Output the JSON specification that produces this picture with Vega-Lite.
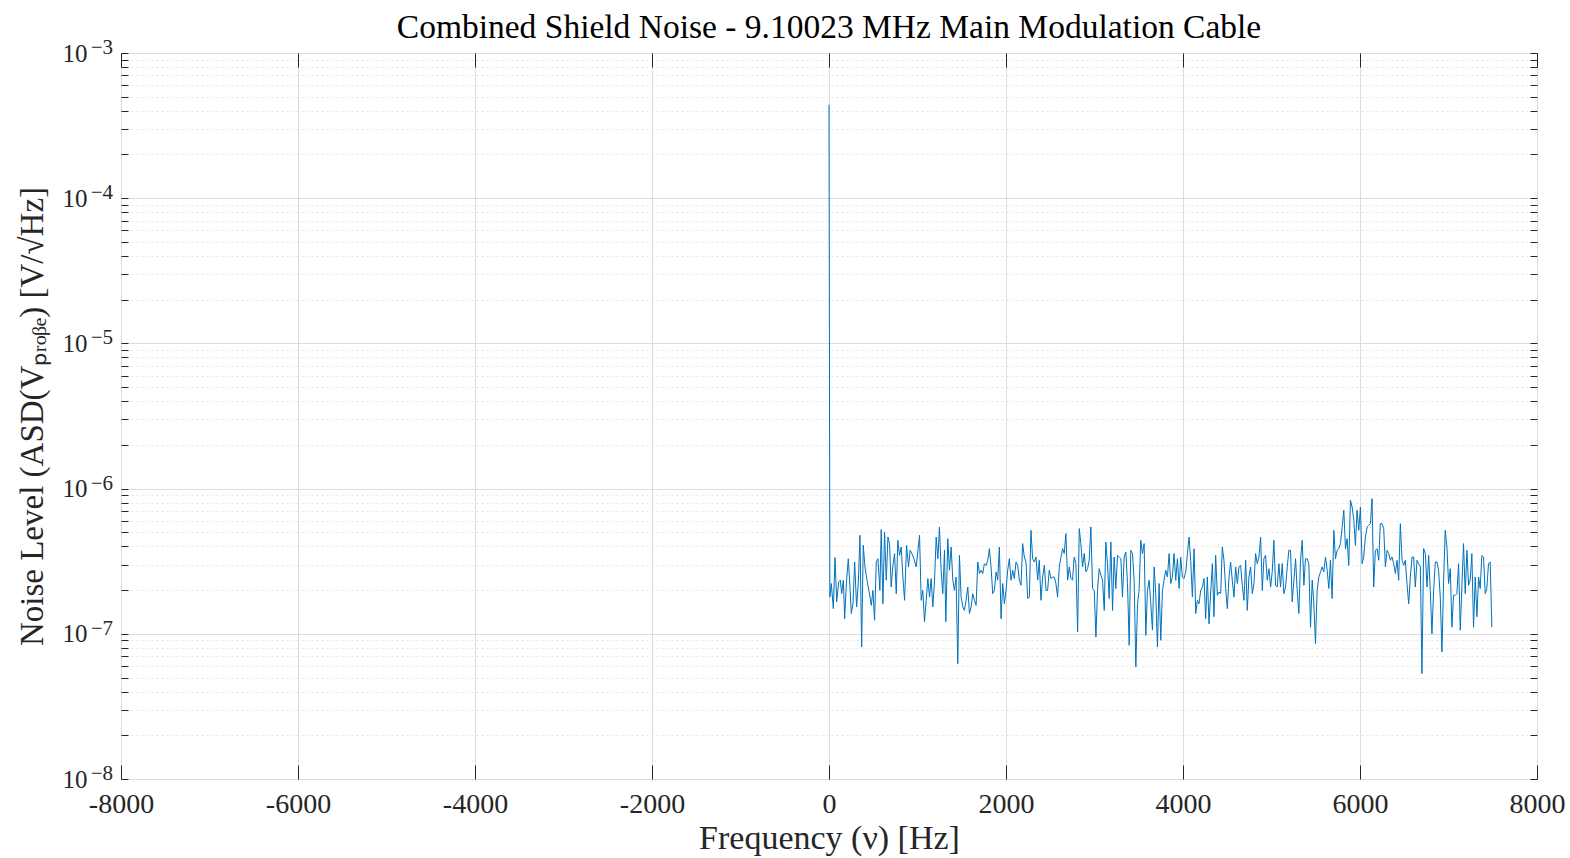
{
  "$schema": "https://vega.github.io/schema/vega-lite/v6.json",
  "width": 1416,
  "height": 726,
  "autosize": "none",
  "padding": {"left": 121, "top": 53, "right": 33, "bottom": 79},
  "background": "white",
  "title": {
    "text": "Combined Shield Noise - 9.10023 MHz Main Modulation Cable",
    "font": "Liberation Serif",
    "fontSize": 33.5,
    "fontWeight": "normal",
    "color": "#000000",
    "offset": -8,
    "anchor": "middle",
    "frame": "group"
  },
  "config": {
    "view": {"stroke": "#262626", "strokeWidth": 1},
    "axis": {
      "domain": false,
      "labelFont": "Liberation Serif",
      "titleFont": "Liberation Serif",
      "labelColor": "#262626",
      "titleColor": "#262626",
      "titleFontWeight": "normal",
      "tickColor": "#262626",
      "tickWidth": 1,
      "labelOverlap": false,
      "labelFlush": false
    }
  },
  "datasets": {
    "exps": [
      {"v": 1e-8, "e": "−8"},
      {"v": 1e-7, "e": "−7"},
      {"v": 1e-6, "e": "−6"},
      {"v": 1e-5, "e": "−5"},
      {"v": 1e-4, "e": "−4"},
      {"v": 1e-3, "e": "−3"}
    ],
    "asd": [
      {"f": 0, "v": 4.4e-4},
      {"f": 10, "v": 1.79e-7},
      {"f": 26, "v": 2.22e-7},
      {"f": 49, "v": 1.49e-7},
      {"f": 68, "v": 3.35e-7},
      {"f": 87, "v": 1.66e-7},
      {"f": 109, "v": 2.28e-7},
      {"f": 128, "v": 2.34e-7},
      {"f": 143, "v": 1.89e-7},
      {"f": 162, "v": 2.34e-7},
      {"f": 177, "v": 1.27e-7},
      {"f": 196, "v": 2.22e-7},
      {"f": 218, "v": 3.29e-7},
      {"f": 237, "v": 2.10e-7},
      {"f": 252, "v": 1.38e-7},
      {"f": 271, "v": 1.61e-7},
      {"f": 290, "v": 3.12e-7},
      {"f": 312, "v": 1.53e-7},
      {"f": 331, "v": 2.22e-7},
      {"f": 350, "v": 4.77e-7},
      {"f": 369, "v": 8.11e-8},
      {"f": 387, "v": 4.07e-7},
      {"f": 406, "v": 2.89e-7},
      {"f": 429, "v": 2.34e-7},
      {"f": 451, "v": 1.99e-7},
      {"f": 478, "v": 1.57e-7},
      {"f": 496, "v": 1.99e-7},
      {"f": 515, "v": 1.24e-7},
      {"f": 534, "v": 3.12e-7},
      {"f": 553, "v": 3.29e-7},
      {"f": 575, "v": 1.99e-7},
      {"f": 590, "v": 5.22e-7},
      {"f": 609, "v": 1.61e-7},
      {"f": 628, "v": 5.03e-7},
      {"f": 647, "v": 2.34e-7},
      {"f": 666, "v": 4.64e-7},
      {"f": 684, "v": 4.18e-7},
      {"f": 703, "v": 2.10e-7},
      {"f": 722, "v": 2.96e-7},
      {"f": 741, "v": 3.57e-7},
      {"f": 760, "v": 1.89e-7},
      {"f": 778, "v": 4.40e-7},
      {"f": 797, "v": 3.47e-7},
      {"f": 816, "v": 3.96e-7},
      {"f": 835, "v": 2.46e-7},
      {"f": 854, "v": 1.70e-7},
      {"f": 876, "v": 4.07e-7},
      {"f": 899, "v": 2.89e-7},
      {"f": 917, "v": 3.76e-7},
      {"f": 936, "v": 3.57e-7},
      {"f": 959, "v": 3.29e-7},
      {"f": 985, "v": 2.89e-7},
      {"f": 1023, "v": 4.77e-7},
      {"f": 1042, "v": 1.70e-7},
      {"f": 1060, "v": 1.99e-7},
      {"f": 1079, "v": 1.21e-7},
      {"f": 1098, "v": 1.70e-7},
      {"f": 1117, "v": 2.40e-7},
      {"f": 1136, "v": 1.79e-7},
      {"f": 1154, "v": 2.40e-7},
      {"f": 1173, "v": 1.53e-7},
      {"f": 1192, "v": 2.28e-7},
      {"f": 1211, "v": 4.64e-7},
      {"f": 1230, "v": 3.29e-7},
      {"f": 1248, "v": 5.44e-7},
      {"f": 1267, "v": 2.74e-7},
      {"f": 1286, "v": 1.89e-7},
      {"f": 1305, "v": 3.76e-7},
      {"f": 1320, "v": 1.21e-7},
      {"f": 1342, "v": 4.52e-7},
      {"f": 1361, "v": 2.74e-7},
      {"f": 1380, "v": 3.96e-7},
      {"f": 1399, "v": 2.34e-7},
      {"f": 1418, "v": 1.99e-7},
      {"f": 1436, "v": 2.46e-7},
      {"f": 1455, "v": 6.23e-8},
      {"f": 1474, "v": 3.47e-7},
      {"f": 1493, "v": 1.79e-7},
      {"f": 1512, "v": 1.53e-7},
      {"f": 1530, "v": 1.45e-7},
      {"f": 1549, "v": 1.70e-7},
      {"f": 1568, "v": 2.10e-7},
      {"f": 1587, "v": 1.38e-7},
      {"f": 1606, "v": 1.53e-7},
      {"f": 1624, "v": 1.89e-7},
      {"f": 1643, "v": 1.70e-7},
      {"f": 1662, "v": 1.57e-7},
      {"f": 1681, "v": 3.12e-7},
      {"f": 1700, "v": 2.60e-7},
      {"f": 1718, "v": 2.74e-7},
      {"f": 1737, "v": 2.60e-7},
      {"f": 1756, "v": 3.04e-7},
      {"f": 1775, "v": 2.96e-7},
      {"f": 1794, "v": 3.21e-7},
      {"f": 1812, "v": 3.86e-7},
      {"f": 1831, "v": 2.89e-7},
      {"f": 1850, "v": 1.89e-7},
      {"f": 1869, "v": 1.99e-7},
      {"f": 1888, "v": 2.67e-7},
      {"f": 1906, "v": 2.34e-7},
      {"f": 1925, "v": 3.96e-7},
      {"f": 1944, "v": 1.27e-7},
      {"f": 1963, "v": 2.22e-7},
      {"f": 1982, "v": 1.61e-7},
      {"f": 2000, "v": 1.99e-7},
      {"f": 2019, "v": 2.74e-7},
      {"f": 2038, "v": 3.29e-7},
      {"f": 2057, "v": 2.34e-7},
      {"f": 2076, "v": 2.74e-7},
      {"f": 2094, "v": 2.40e-7},
      {"f": 2113, "v": 3.12e-7},
      {"f": 2132, "v": 2.96e-7},
      {"f": 2151, "v": 2.34e-7},
      {"f": 2170, "v": 2.16e-7},
      {"f": 2188, "v": 4.18e-7},
      {"f": 2207, "v": 3.38e-7},
      {"f": 2226, "v": 3.12e-7},
      {"f": 2245, "v": 1.75e-7},
      {"f": 2264, "v": 1.79e-7},
      {"f": 2282, "v": 5.16e-7},
      {"f": 2301, "v": 3.29e-7},
      {"f": 2320, "v": 3.12e-7},
      {"f": 2339, "v": 3.38e-7},
      {"f": 2358, "v": 2.34e-7},
      {"f": 2376, "v": 3.21e-7},
      {"f": 2395, "v": 1.70e-7},
      {"f": 2414, "v": 2.46e-7},
      {"f": 2433, "v": 2.96e-7},
      {"f": 2452, "v": 1.99e-7},
      {"f": 2470, "v": 1.99e-7},
      {"f": 2489, "v": 2.74e-7},
      {"f": 2508, "v": 2.40e-7},
      {"f": 2527, "v": 2.46e-7},
      {"f": 2546, "v": 2.46e-7},
      {"f": 2564, "v": 2.22e-7},
      {"f": 2583, "v": 1.79e-7},
      {"f": 2602, "v": 2.89e-7},
      {"f": 2621, "v": 3.38e-7},
      {"f": 2640, "v": 3.86e-7},
      {"f": 2658, "v": 3.57e-7},
      {"f": 2677, "v": 4.90e-7},
      {"f": 2696, "v": 2.34e-7},
      {"f": 2715, "v": 2.89e-7},
      {"f": 2734, "v": 2.40e-7},
      {"f": 2752, "v": 2.34e-7},
      {"f": 2771, "v": 3.38e-7},
      {"f": 2790, "v": 3.04e-7},
      {"f": 2809, "v": 1.03e-7},
      {"f": 2828, "v": 5.30e-7},
      {"f": 2846, "v": 4.18e-7},
      {"f": 2865, "v": 2.89e-7},
      {"f": 2884, "v": 3.57e-7},
      {"f": 2903, "v": 2.67e-7},
      {"f": 2922, "v": 2.81e-7},
      {"f": 2940, "v": 3.21e-7},
      {"f": 2959, "v": 5.44e-7},
      {"f": 2978, "v": 2.05e-7},
      {"f": 2997, "v": 1.99e-7},
      {"f": 3016, "v": 9.51e-8},
      {"f": 3034, "v": 1.99e-7},
      {"f": 3053, "v": 2.81e-7},
      {"f": 3072, "v": 2.53e-7},
      {"f": 3091, "v": 2.34e-7},
      {"f": 3110, "v": 1.45e-7},
      {"f": 3128, "v": 4.29e-7},
      {"f": 3147, "v": 3.04e-7},
      {"f": 3166, "v": 1.75e-7},
      {"f": 3185, "v": 4.29e-7},
      {"f": 3204, "v": 1.45e-7},
      {"f": 3222, "v": 3.38e-7},
      {"f": 3241, "v": 2.05e-7},
      {"f": 3260, "v": 3.47e-7},
      {"f": 3279, "v": 3.38e-7},
      {"f": 3298, "v": 3.29e-7},
      {"f": 3316, "v": 1.79e-7},
      {"f": 3335, "v": 3.38e-7},
      {"f": 3354, "v": 3.66e-7},
      {"f": 3373, "v": 2.22e-7},
      {"f": 3392, "v": 8.33e-8},
      {"f": 3410, "v": 3.76e-7},
      {"f": 3429, "v": 3.57e-7},
      {"f": 3448, "v": 2.34e-7},
      {"f": 3467, "v": 5.91e-8},
      {"f": 3486, "v": 1.61e-7},
      {"f": 3504, "v": 1.99e-7},
      {"f": 3523, "v": 4.40e-7},
      {"f": 3542, "v": 3.57e-7},
      {"f": 3561, "v": 4.18e-7},
      {"f": 3580, "v": 9.76e-8},
      {"f": 3598, "v": 1.99e-7},
      {"f": 3617, "v": 2.34e-7},
      {"f": 3636, "v": 1.61e-7},
      {"f": 3655, "v": 1.06e-7},
      {"f": 3674, "v": 2.89e-7},
      {"f": 3692, "v": 1.89e-7},
      {"f": 3711, "v": 8.11e-8},
      {"f": 3730, "v": 2.22e-7},
      {"f": 3749, "v": 9.02e-8},
      {"f": 3768, "v": 1.99e-7},
      {"f": 3786, "v": 2.34e-7},
      {"f": 3805, "v": 2.74e-7},
      {"f": 3824, "v": 2.46e-7},
      {"f": 3843, "v": 3.57e-7},
      {"f": 3862, "v": 2.22e-7},
      {"f": 3880, "v": 2.46e-7},
      {"f": 3899, "v": 3.57e-7},
      {"f": 3918, "v": 2.34e-7},
      {"f": 3937, "v": 3.29e-7},
      {"f": 3956, "v": 2.05e-7},
      {"f": 3974, "v": 3.38e-7},
      {"f": 3993, "v": 2.46e-7},
      {"f": 4012, "v": 2.40e-7},
      {"f": 4031, "v": 2.67e-7},
      {"f": 4050, "v": 3.57e-7},
      {"f": 4068, "v": 4.64e-7},
      {"f": 4087, "v": 3.21e-7},
      {"f": 4106, "v": 1.79e-7},
      {"f": 4125, "v": 3.86e-7},
      {"f": 4144, "v": 1.38e-7},
      {"f": 4162, "v": 1.70e-7},
      {"f": 4181, "v": 1.61e-7},
      {"f": 4200, "v": 1.99e-7},
      {"f": 4219, "v": 2.10e-7},
      {"f": 4238, "v": 2.40e-7},
      {"f": 4256, "v": 1.27e-7},
      {"f": 4275, "v": 2.46e-7},
      {"f": 4294, "v": 1.17e-7},
      {"f": 4313, "v": 1.94e-7},
      {"f": 4332, "v": 3.04e-7},
      {"f": 4350, "v": 1.31e-7},
      {"f": 4369, "v": 3.47e-7},
      {"f": 4388, "v": 1.84e-7},
      {"f": 4407, "v": 1.94e-7},
      {"f": 4426, "v": 1.89e-7},
      {"f": 4444, "v": 3.96e-7},
      {"f": 4463, "v": 3.21e-7},
      {"f": 4482, "v": 2.05e-7},
      {"f": 4501, "v": 1.49e-7},
      {"f": 4520, "v": 2.46e-7},
      {"f": 4538, "v": 3.12e-7},
      {"f": 4557, "v": 2.34e-7},
      {"f": 4576, "v": 1.79e-7},
      {"f": 4595, "v": 2.89e-7},
      {"f": 4614, "v": 2.22e-7},
      {"f": 4632, "v": 2.89e-7},
      {"f": 4651, "v": 2.96e-7},
      {"f": 4670, "v": 2.16e-7},
      {"f": 4689, "v": 1.70e-7},
      {"f": 4708, "v": 3.21e-7},
      {"f": 4726, "v": 1.45e-7},
      {"f": 4745, "v": 2.46e-7},
      {"f": 4764, "v": 2.89e-7},
      {"f": 4783, "v": 1.89e-7},
      {"f": 4802, "v": 2.22e-7},
      {"f": 4820, "v": 3.57e-7},
      {"f": 4839, "v": 3.04e-7},
      {"f": 4858, "v": 3.38e-7},
      {"f": 4877, "v": 4.64e-7},
      {"f": 4896, "v": 1.99e-7},
      {"f": 4914, "v": 3.29e-7},
      {"f": 4933, "v": 3.47e-7},
      {"f": 4952, "v": 2.34e-7},
      {"f": 4971, "v": 2.81e-7},
      {"f": 4990, "v": 2.10e-7},
      {"f": 5008, "v": 2.67e-7},
      {"f": 5027, "v": 4.40e-7},
      {"f": 5046, "v": 2.16e-7},
      {"f": 5065, "v": 2.10e-7},
      {"f": 5084, "v": 3.04e-7},
      {"f": 5102, "v": 2.10e-7},
      {"f": 5121, "v": 3.04e-7},
      {"f": 5140, "v": 1.89e-7},
      {"f": 5159, "v": 2.10e-7},
      {"f": 5178, "v": 2.89e-7},
      {"f": 5196, "v": 3.76e-7},
      {"f": 5215, "v": 3.76e-7},
      {"f": 5234, "v": 1.66e-7},
      {"f": 5253, "v": 2.34e-7},
      {"f": 5272, "v": 3.29e-7},
      {"f": 5290, "v": 1.99e-7},
      {"f": 5309, "v": 1.38e-7},
      {"f": 5328, "v": 3.21e-7},
      {"f": 5347, "v": 4.40e-7},
      {"f": 5366, "v": 2.16e-7},
      {"f": 5384, "v": 3.29e-7},
      {"f": 5403, "v": 3.29e-7},
      {"f": 5422, "v": 3.04e-7},
      {"f": 5441, "v": 1.11e-7},
      {"f": 5460, "v": 2.34e-7},
      {"f": 5478, "v": 1.61e-7},
      {"f": 5497, "v": 8.56e-8},
      {"f": 5516, "v": 1.99e-7},
      {"f": 5535, "v": 2.46e-7},
      {"f": 5554, "v": 2.67e-7},
      {"f": 5572, "v": 2.89e-7},
      {"f": 5591, "v": 2.67e-7},
      {"f": 5610, "v": 3.38e-7},
      {"f": 5629, "v": 2.74e-7},
      {"f": 5648, "v": 2.05e-7},
      {"f": 5666, "v": 3.21e-7},
      {"f": 5685, "v": 1.75e-7},
      {"f": 5704, "v": 5.16e-7},
      {"f": 5723, "v": 3.29e-7},
      {"f": 5742, "v": 3.76e-7},
      {"f": 5760, "v": 3.86e-7},
      {"f": 5779, "v": 4.18e-7},
      {"f": 5798, "v": 5.4e-7},
      {"f": 5817, "v": 7.09e-7},
      {"f": 5836, "v": 3.86e-7},
      {"f": 5854, "v": 4.52e-7},
      {"f": 5873, "v": 2.96e-7},
      {"f": 5892, "v": 8.31e-7},
      {"f": 5911, "v": 7.47e-7},
      {"f": 5930, "v": 6.05e-7},
      {"f": 5948, "v": 4.07e-7},
      {"f": 5967, "v": 7.09e-7},
      {"f": 5986, "v": 5.16e-7},
      {"f": 6005, "v": 7.47e-7},
      {"f": 6024, "v": 3.04e-7},
      {"f": 6042, "v": 3.38e-7},
      {"f": 6061, "v": 4.64e-7},
      {"f": 6080, "v": 5.44e-7},
      {"f": 6099, "v": 5.59e-7},
      {"f": 6118, "v": 5.74e-7},
      {"f": 6136, "v": 8.53e-7},
      {"f": 6155, "v": 2.10e-7},
      {"f": 6174, "v": 3.76e-7},
      {"f": 6193, "v": 3.86e-7},
      {"f": 6212, "v": 3.21e-7},
      {"f": 6230, "v": 5.74e-7},
      {"f": 6249, "v": 5.74e-7},
      {"f": 6268, "v": 5.30e-7},
      {"f": 6287, "v": 2.89e-7},
      {"f": 6306, "v": 3.76e-7},
      {"f": 6324, "v": 3.57e-7},
      {"f": 6343, "v": 3.21e-7},
      {"f": 6362, "v": 3.38e-7},
      {"f": 6381, "v": 3.04e-7},
      {"f": 6400, "v": 2.60e-7},
      {"f": 6418, "v": 3.21e-7},
      {"f": 6437, "v": 2.34e-7},
      {"f": 6456, "v": 5.74e-7},
      {"f": 6475, "v": 3.21e-7},
      {"f": 6494, "v": 2.96e-7},
      {"f": 6512, "v": 3.21e-7},
      {"f": 6531, "v": 2.22e-7},
      {"f": 6550, "v": 1.61e-7},
      {"f": 6569, "v": 2.46e-7},
      {"f": 6588, "v": 3.38e-7},
      {"f": 6606, "v": 3.38e-7},
      {"f": 6625, "v": 2.10e-7},
      {"f": 6644, "v": 3.21e-7},
      {"f": 6663, "v": 3.04e-7},
      {"f": 6682, "v": 2.89e-7},
      {"f": 6700, "v": 5.32e-8},
      {"f": 6719, "v": 3.86e-7},
      {"f": 6738, "v": 3.57e-7},
      {"f": 6757, "v": 2.10e-7},
      {"f": 6776, "v": 3.47e-7},
      {"f": 6794, "v": 1.99e-7},
      {"f": 6813, "v": 1.00e-7},
      {"f": 6832, "v": 1.99e-7},
      {"f": 6851, "v": 3.12e-7},
      {"f": 6870, "v": 3.12e-7},
      {"f": 6888, "v": 2.74e-7},
      {"f": 6907, "v": 1.79e-7},
      {"f": 6926, "v": 7.49e-8},
      {"f": 6945, "v": 2.34e-7},
      {"f": 6963, "v": 5.16e-7},
      {"f": 6982, "v": 3.96e-7},
      {"f": 7001, "v": 2.22e-7},
      {"f": 7020, "v": 2.81e-7},
      {"f": 7039, "v": 1.11e-7},
      {"f": 7057, "v": 1.84e-7},
      {"f": 7076, "v": 1.84e-7},
      {"f": 7095, "v": 1.89e-7},
      {"f": 7114, "v": 3.04e-7},
      {"f": 7133, "v": 1.06e-7},
      {"f": 7151, "v": 2.10e-7},
      {"f": 7170, "v": 4.18e-7},
      {"f": 7189, "v": 1.89e-7},
      {"f": 7208, "v": 3.76e-7},
      {"f": 7227, "v": 2.16e-7},
      {"f": 7245, "v": 2.34e-7},
      {"f": 7264, "v": 3.57e-7},
      {"f": 7283, "v": 1.11e-7},
      {"f": 7302, "v": 2.46e-7},
      {"f": 7321, "v": 1.31e-7},
      {"f": 7340, "v": 2.46e-7},
      {"f": 7358, "v": 2.05e-7},
      {"f": 7377, "v": 3.47e-7},
      {"f": 7396, "v": 3.38e-7},
      {"f": 7415, "v": 1.89e-7},
      {"f": 7433, "v": 2.05e-7},
      {"f": 7452, "v": 3.04e-7},
      {"f": 7471, "v": 3.12e-7},
      {"f": 7490, "v": 1.11e-7}
    ]
  },
  "layer": [
    {
      "data": {"name": "asd"},
      "mark": {"type": "line", "color": "#0072BD", "strokeWidth": 1, "clip": true},
      "encoding": {
        "x": {
          "field": "f",
          "type": "quantitative",
          "scale": {"domain": [-8000, 8000], "nice": false, "zero": false},
          "axis": {
            "orient": "bottom",
            "values": [-8000, -6000, -4000, -2000, 0, 2000, 4000, 6000, 8000],
            "labelExpr": "datum.value < 0 ? '-' + abs(datum.value) : '' + datum.value",
            "labelFontSize": 28,
            "labelPadding": 25,
            "tickSize": -14,
            "grid": true,
            "gridColor": "#dcdcdc",
            "gridWidth": 1,
            "title": "Frequency (ν) [Hz]",
            "titleFontSize": 34,
            "titleBaseline": "alphabetic",
            "titleY": 69
          }
        },
        "y": {
          "field": "v",
          "type": "quantitative",
          "scale": {"type": "log", "domain": [1e-8, 1e-3], "nice": false},
          "axis": {
            "orient": "left",
            "values": [1e-8, 2e-8, 3e-8, 4e-8, 5e-8, 6e-8, 7e-8, 8e-8, 9e-8, 1e-7, 2e-7, 3e-7, 4e-7, 5e-7, 6e-7, 7e-7, 8e-7, 9e-7, 1e-6, 2e-6, 3e-6, 4e-6, 5e-6, 6e-6, 7e-6, 8e-6, 9e-6, 1e-5, 2e-5, 3e-5, 4e-5, 5e-5, 6e-5, 7e-5, 8e-5, 9e-5, 1e-4, 2e-4, 3e-4, 4e-4, 5e-4, 6e-4, 7e-4, 8e-4, 9e-4, 1e-3],
            "labelExpr": "abs(log(datum.value)/LN10 - round(log(datum.value)/LN10)) < 0.01 ? '10' : ''",
            "labelFontSize": 25,
            "labelPadding": 41,
            "labelBaseline": "middle",
            "tickSize": -7,
            "grid": true,
            "gridColor": {"condition": {"test": "abs(log(datum.value)/LN10 - round(log(datum.value)/LN10)) > 0.01", "value": "#e4e4e4"}, "value": "#dcdcdc"},
            "gridDash": {"condition": {"test": "abs(log(datum.value)/LN10 - round(log(datum.value)/LN10)) > 0.01", "value": [2, 3]}, "value": []},
            "title": "Noise Level (ASD(Vₚᵣₒᵦₑ) [V/√Hz]",
            "titleFontSize": 33,
            "titleBaseline": "alphabetic",
            "titleX": -79
          }
        }
      }
    },
    {
      "data": {"name": "asd"},
      "mark": {"type": "line", "opacity": 0},
      "encoding": {
        "x": {
          "field": "f",
          "type": "quantitative",
          "scale": {"domain": [-8000, 8000], "nice": false, "zero": false},
          "axis": {
            "orient": "top",
            "values": [-8000, -6000, -4000, -2000, 0, 2000, 4000, 6000, 8000],
            "labels": false,
            "tickSize": -14,
            "grid": false,
            "title": null
          }
        },
        "y": {
          "field": "v",
          "type": "quantitative",
          "scale": {"type": "log", "domain": [1e-8, 1e-3], "nice": false},
          "axis": {
            "orient": "right",
            "values": [1e-8, 2e-8, 3e-8, 4e-8, 5e-8, 6e-8, 7e-8, 8e-8, 9e-8, 1e-7, 2e-7, 3e-7, 4e-7, 5e-7, 6e-7, 7e-7, 8e-7, 9e-7, 1e-6, 2e-6, 3e-6, 4e-6, 5e-6, 6e-6, 7e-6, 8e-6, 9e-6, 1e-5, 2e-5, 3e-5, 4e-5, 5e-5, 6e-5, 7e-5, 8e-5, 9e-5, 1e-4, 2e-4, 3e-4, 4e-4, 5e-4, 6e-4, 7e-4, 8e-4, 9e-4, 1e-3],
            "labels": false,
            "tickSize": -7,
            "grid": false,
            "title": null
          }
        }
      }
    },
    {
      "data": {"name": "exps"},
      "mark": {"type": "text", "font": "Liberation Serif", "fontSize": 21, "color": "#262626", "align": "right", "baseline": "alphabetic", "dx": -8, "dy": 1, "clip": false},
      "encoding": {
        "x": {"datum": -8000, "type": "quantitative", "axis": null},
        "y": {"field": "v", "type": "quantitative", "axis": null},
        "text": {"field": "e"}
      }
    }
  ],
  "resolve": {"axis": {"x": "independent", "y": "independent"}}
}
